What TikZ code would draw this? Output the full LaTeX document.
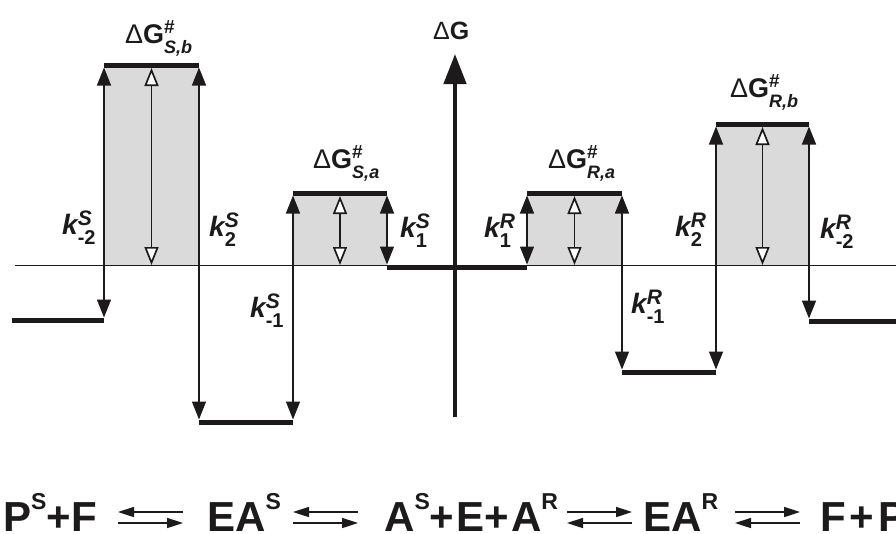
\documentclass[tikz,border=0pt]{standalone}
\usepackage{fontspec}
\setmainfont{Liberation Sans}
\usetikzlibrary{arrows.meta}
\definecolor{EDInk}{HTML}{1C1A1B}
\definecolor{EDShade}{HTML}{DADADA}

\newcommand{\dgts}[1]{{\fontsize{27}{27}\selectfont{\mdseries Δ}\textbf{G}}\rlap{\raisebox{9.5pt}{\fontsize{19}{19}\selectfont\bfseries\#}}\raisebox{-10pt}{\fontsize{18}{18}\selectfont\bfseries\itshape #1}}
\newcommand{\kk}[2]{{\fontsize{28}{28}\selectfont\bfseries\itshape k}\rlap{\raisebox{8.5pt}{\fontsize{21}{21}\selectfont\bfseries\itshape #1}}\raisebox{-10pt}{\fontsize{20}{20}\selectfont\bfseries #2}}
\newcommand{\spc}[1]{\raisebox{22pt}{\fontsize{23}{23}\selectfont #1}}

\begin{document}
\begin{tikzpicture}[x=1pt,y=-1pt,
  level/.style={line width=5pt,EDInk},
  rate/.style={line width=1.4pt,EDInk,{Triangle[length=18pt,width=14pt]}-{Triangle[length=18pt,width=14pt]},shorten <=2.5pt,shorten >=2.5pt},
  barrier/.style={line width=1.7pt,EDInk,{Triangle[open,length=18pt,width=14pt,fill=white]}-{Triangle[open,length=18pt,width=14pt,fill=white]},shorten <=3pt},
  eqarrow/.style={line width=1.6pt,EDInk,-{Triangle[length=16pt,width=10pt]}},
  klabel/.style={anchor=base west,inner sep=0pt,text=EDInk},
  species/.style={anchor=base west,inner sep=0pt,text=EDInk,font=\fontsize{42}{42}\selectfont\bfseries}]
\path[use as bounding box] (0,0) rectangle (896,533);
\fill[white] (0,0) rectangle (896,533);

\coordinate (base) at (0,265);
\coordinate (psL) at (12,320);   \coordinate (psR) at (104,320);
\coordinate (sbL) at (104,65);   \coordinate (sbR) at (199,65);
\coordinate (easL) at (199,422); \coordinate (easR) at (293,422);
\coordinate (saL) at (293,193);  \coordinate (saR) at (387,193);
\coordinate (midL) at (387,267); \coordinate (midR) at (527,267);
\coordinate (raL) at (527,193);  \coordinate (raR) at (622,193);
\coordinate (earL) at (622,372); \coordinate (earR) at (716,372);
\coordinate (rbL) at (716,124);  \coordinate (rbR) at (809,124);
\coordinate (fpL) at (809,321);  \coordinate (fpR) at (896,321);

\fill[EDShade] (sbL) rectangle (sbR |- base);
\fill[EDShade] (saL) rectangle (saR |- base);
\fill[EDShade] (raL) rectangle (raR |- base);
\fill[EDShade] (rbL) rectangle (rbR |- base);
\draw[EDInk,line width=.9pt] (15,265) -- (896,265);

\draw[level] (psL) -- (psR);
\draw[level] (sbL) -- (sbR);
\draw[level] (easL) -- (easR);
\draw[level] (saL) -- (saR);
\draw[level] (midL) -- (midR);
\draw[level] (raL) -- (raR);
\draw[level] (earL) -- (earR);
\draw[level] (rbL) -- (rbR);
\draw[level] (fpL) -- (fpR);

\draw[rate] (sbL) -- (psR);
\draw[rate] (sbR) -- (easL);
\draw[rate] (saL) -- (easR);
\draw[rate] (saR) -- (midL);
\draw[rate] (raL) -- (midR);
\draw[rate] (raR) -- (earL);
\draw[rate] (rbL) -- (earR);
\draw[rate] (rbR) -- (fpL);

\path (sbL) -- (sbR) coordinate[midway] (sbM);
\path (saL) -- (saR) coordinate[midway] (saM);
\path (raL) -- (raR) coordinate[midway] (raM);
\path (rbL) -- (rbR) coordinate[midway] (rbM);
\draw[barrier] (sbM) -- (sbM |- base);
\draw[barrier] (saM) -- (saM |- base);
\draw[barrier] (raM) -- (raM |- base);
\draw[barrier] (rbM) -- (rbM |- base);

\coordinate (axB) at (455,417);
\coordinate (axT) at (455,54);
\draw[EDInk,line width=4.5pt,-{Triangle[length=30pt,width=22pt]}] (axB) -- (axT);
\node[klabel] (dg) at (433,39) {\fontsize{25}{25}\selectfont Δ\textbf{G}};

\node[klabel] (tsSb) at (125,43) {\dgts{S,b}};
\node[klabel] (tsSa) at (313,168) {\dgts{S,a}};
\node[klabel] (tsRa) at (548,168) {\dgts{R,a}};
\node[klabel] (tsRb) at (730,97) {\dgts{R,b}};

\node[klabel] (kSm2) at (62,234) {\kk{S}{-2}};
\node[klabel] (kS2) at (209,236) {\kk{S}{2}};
\node[klabel] (kSm1) at (250,317) {\kk{S}{-1}};
\node[klabel] (kS1) at (400,237) {\kk{S}{1}};
\node[klabel] (kR1) at (484,237) {\kk{R}{1}};
\node[klabel] (kRm1) at (631,313) {\kk{R}{-1}};
\node[klabel] (kR2) at (675,236) {\kk{R}{2}};
\node[klabel] (kRm2) at (820,238) {\kk{R}{-2}};

\node[species] (ps) at (3,531) {P\spc{S}+F};
\node[species] (eas) at (207,531) {EA\spc{S}};
\node[species] (mid) at (384,531) {A\spc{S}+\hspace{.05em}E+\hspace{.05em}A\spc{R}};
\node[species] (ear) at (643,531) {EA\spc{R}};
\node[species] (fp) at (820,531) {F\hspace{.08em}+\hspace{.12em}P\spc{R}};

\coordinate (e1w) at (118,517.5); \coordinate (e1e) at (183,517.5);
\coordinate (e2w) at (293,517.5); \coordinate (e2e) at (358,517.5);
\coordinate (e3w) at (567,517.5); \coordinate (e3e) at (632,517.5);
\coordinate (e4w) at (735,517.5); \coordinate (e4e) at (800,517.5);
\draw[eqarrow] ([yshift=5.5pt]e1e) -- ([yshift=5.5pt]e1w);
\draw[eqarrow] ([yshift=-5.5pt]e1w) -- ([yshift=-5.5pt]e1e);
\draw[eqarrow] ([yshift=5.5pt]e2e) -- ([yshift=5.5pt]e2w);
\draw[eqarrow] ([yshift=-5.5pt]e2w) -- ([yshift=-5.5pt]e2e);
\draw[eqarrow] ([yshift=5.5pt]e3w) -- ([yshift=5.5pt]e3e);
\draw[eqarrow] ([yshift=-5.5pt]e3e) -- ([yshift=-5.5pt]e3w);
\draw[eqarrow] ([yshift=5.5pt]e4w) -- ([yshift=5.5pt]e4e);
\draw[eqarrow] ([yshift=-5.5pt]e4e) -- ([yshift=-5.5pt]e4w);
\end{tikzpicture}
\end{document}
